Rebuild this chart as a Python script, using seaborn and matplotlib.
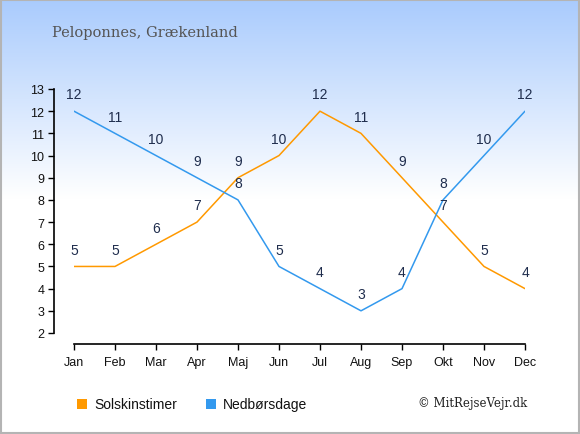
import numpy as np
import pandas as pd
import matplotlib
matplotlib.use("Agg")
import matplotlib.pyplot as plt
import seaborn as sns
from matplotlib.colors import LinearSegmentedColormap
from matplotlib.patches import Rectangle

months = ["Jan", "Feb", "Mar", "Apr", "Maj", "Jun", "Jul", "Aug", "Sep", "Okt", "Nov", "Dec"]
sun_hours = [5, 5, 6, 7, 9, 10, 12, 11, 9, 7, 5, 4]
rain_days = [12, 11, 10, 9, 8, 5, 4, 3, 4, 8, 10, 12]
y_ticks = list(range(2, 14))

title = "Peloponnes, Grækenland"
sun_name = "Solskinstimer"
rain_name = "Nedbørsdage"
credit = "© MitRejseVejr.dk"

sun_color = "#ff9900"
rain_color = "#3399ee"
label_color = "#1f2d4d"

sns.set_theme(style="white")
plt.rcParams["font.family"] = ["Liberation Sans", "DejaVu Sans"]

W, H = 580, 435
fig = plt.figure(figsize=(W / 100, H / 100), dpi=100)

# background: blue-to-white gradient in the upper part of the figure
bg = fig.add_axes([0, 0, 1, 1], zorder=-10)
bg.set_xlim(0, 1)
bg.set_ylim(0, 1)
bg.axis("off")
cmap = LinearSegmentedColormap.from_list("sky", ["#ffffff", "#a9cbfd"])
grad = np.linspace(0, 1, 256).reshape(-1, 1)
bg.imshow(grad, extent=[0, 1, 1 - 200 / H, 1], origin="lower", cmap=cmap, aspect="auto")
bg.add_patch(Rectangle((0, 0), 1, 1 - 200 / H + 0.001, color="white", zorder=-1))
bg.add_patch(Rectangle((0.001, 0.002), 0.997, 0.996, fill=False, edgecolor="#b4b4b4", lw=1.5))

# main axes: x from Jan (x=74) to Dec (x=525), y from 2 (y=334) to 13 (y=90)
left, right = 74 / W, 525 / W
bottom, top = 1 - 334 / H, 1 - 90 / H
ax = fig.add_axes([left, bottom, right - left, top - bottom])
ax.patch.set_alpha(0)

df = pd.DataFrame({
    "month": list(range(12)) * 2,
    "value": sun_hours + rain_days,
    "series": [sun_name] * 12 + [rain_name] * 12,
})
sns.lineplot(data=df, x="month", y="value", hue="series",
             palette={sun_name: sun_color, rain_name: rain_color},
             linewidth=1.1, legend=False, ax=ax)

for i, v in enumerate(sun_hours):
    ax.annotate(str(v), (i, v), xytext=(0, 7), textcoords="offset points",
                ha="center", va="bottom", fontsize=10, color=label_color)
for i, v in enumerate(rain_days):
    ax.annotate(str(v), (i, v), xytext=(0, 7), textcoords="offset points",
                ha="center", va="bottom", fontsize=10, color=label_color)

ax.set_xlim(0, 11)
ax.set_ylim(2, 13)
ax.set_xticks(range(12))
ax.set_xticklabels(months)
ax.set_yticks(y_ticks)
ax.set_xlabel("")
ax.set_ylabel("")
for s in ["top", "right"]:
    ax.spines[s].set_visible(False)
ax.spines["left"].set_position(("outward", 14.4))
ax.spines["bottom"].set_position(("outward", 7.9))
for s in ["left", "bottom"]:
    ax.spines[s].set_color("black")
    ax.spines[s].set_linewidth(1.2)
ax.tick_params(axis="both", bottom=True, left=True, length=4, width=1,
               color="black", labelsize=9, labelcolor="#111111", direction="out")
ax.tick_params(axis="y", pad=3)
ax.tick_params(axis="x", pad=5)

fig.text(52 / W, 1 - 33 / H, title, fontsize=10.5, color="#555555",
         family=["DejaVu Serif"], va="center", ha="left")

# legend
for x0, name, col in [(77, sun_name, sun_color), (206, rain_name, rain_color)]:
    fig.patches.append(Rectangle((x0 / W, 1 - 410 / H), 10 / W, 10 / H,
                                 transform=fig.transFigure, facecolor=col,
                                 edgecolor="none"))
    fig.text((x0 + 17) / W, 1 - 405 / H, name, fontsize=10, color="#111111",
             va="center", ha="left")

fig.text(527 / W, 1 - 404 / H, credit, fontsize=8.5, color="#222222",
         family=["DejaVu Serif"], va="center", ha="right")

fig.savefig("out.png", dpi=100)
